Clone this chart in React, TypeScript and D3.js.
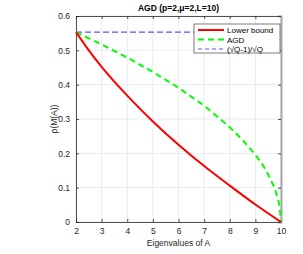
import React, { useRef, useEffect } from 'react';
import * as d3 from 'd3';

// eigenvalues sampled along the x axis
const lowerX = [2, 2.5, 3, 4, 5, 6, 7, 8, 9, 10];
const lowerY = [0.553, 0.5, 0.452, 0.368, 0.293, 0.225, 0.163, 0.106, 0.051, 0];

const agdX = [2, 3, 4, 5, 6, 7, 8, 8.5, 9, 9.3, 9.5, 9.7, 9.8, 9.9, 9.95, 10];
const agdY = [0.553, 0.517, 0.479, 0.437, 0.391, 0.339, 0.276, 0.239, 0.196, 0.165, 0.138, 0.107, 0.087, 0.062, 0.044, 0];

const boundX = [2, 10];
const boundY = [0.553, 0.553];

const xTicks = [2, 3, 4, 5, 6, 7, 8, 9, 10];
const yTicks = [0, 0.1, 0.2, 0.3, 0.4, 0.5, 0.6];

const legendLabels = ['Lower bound', 'AGD', '(\u221AQ-1)/\u221AQ'];

const App: React.FC = () => {
  const ref = useRef<SVGSVGElement | null>(null);

  useEffect(() => {
    if (!ref.current) return;
    const svg = d3.select(ref.current);
    svg.selectAll('*').remove();

    const margin = { top: 16, right: 22, bottom: 32, left: 76 };
    const width = 303, height = 254;
    const font = 'Liberation Sans, Arial, sans-serif';
    const axisColor = '#262626';

    const x = d3.scaleLinear().domain([2, 10]).range([margin.left, width - margin.right]);
    const y = d3.scaleLinear().domain([0, 0.6]).range([height - margin.bottom, margin.top]);

    svg.append('rect').attr('width', width).attr('height', height).attr('fill', 'white');

    // grid
    const grid = svg.append('g').attr('stroke', '#e6e6e6').attr('stroke-width', 0.8);
    xTicks.forEach(t => grid.append('line').attr('x1', x(t)).attr('x2', x(t)).attr('y1', y(0)).attr('y2', y(0.6)));
    yTicks.forEach(t => grid.append('line').attr('x1', x(2)).attr('x2', x(10)).attr('y1', y(t)).attr('y2', y(t)));

    // axes (ticks inside, mirrored on top/right)
    const xAxis = svg.append('g')
      .attr('transform', `translate(0,${y(0)})`)
      .call(d3.axisBottom(x).tickValues(xTicks).tickSize(-3).tickPadding(6).tickFormat(d3.format('d')));
    const yAxis = svg.append('g')
      .attr('transform', `translate(${x(2)},0)`)
      .call(d3.axisLeft(y).tickValues(yTicks).tickSize(-3).tickPadding(6).tickFormat(d => d === 0 ? '0' : d3.format('.1f')(d as number)));
    const xTop = svg.append('g')
      .attr('transform', `translate(0,${y(0.6)})`)
      .call(d3.axisTop(x).tickValues(xTicks).tickSize(-3).tickFormat(() => ''));
    const yRight = svg.append('g')
      .attr('transform', `translate(${x(10)},0)`)
      .call(d3.axisRight(y).tickValues(yTicks).tickSize(-3).tickFormat(() => ''));
    [xAxis, yAxis, xTop, yRight].forEach(a => {
      a.selectAll('.domain').attr('stroke', axisColor).attr('stroke-width', 0.8);
      a.selectAll('line').attr('stroke', axisColor).attr('stroke-width', 0.8);
      a.selectAll('text').attr('font-family', font).attr('font-size', 8.5).attr('fill', axisColor);
    });
    yRight.select('.domain').attr('stroke', '#a6a6a6').attr('stroke-width', 2);

    const line = d3.line<[number, number]>().x(d => x(d[0])).y(d => y(d[1]));
    const zip = (a: number[], b: number[]) => a.map((v, i) => [v, b[i]] as [number, number]);

    svg.append('path').datum(zip(boundX, boundY)).attr('d', line)
      .attr('fill', 'none').attr('stroke', '#5a5aff').attr('stroke-width', 1.2).attr('stroke-dasharray', '6,3');
    svg.append('path').datum(zip(agdX, agdY)).attr('d', line)
      .attr('fill', 'none').attr('stroke', '#00ff00').attr('stroke-width', 2).attr('stroke-dasharray', '6,4');
    svg.append('path').datum(zip(lowerX, lowerY)).attr('d', line.curve(d3.curveMonotoneX))
      .attr('fill', 'none').attr('stroke', '#ff0000').attr('stroke-width', 2);

    // legend
    const lg = svg.append('g').attr('transform', 'translate(194,24)');
    lg.append('rect').attr('width', 86).attr('height', 29).attr('fill', 'white').attr('stroke', axisColor).attr('stroke-width', 0.6);
    const styles = [
      { c: '#ff0000', w: 2, dash: null },
      { c: '#00ff00', w: 2, dash: '6,4' },
      { c: '#5a5aff', w: 1.2, dash: '4,3' }
    ];
    legendLabels.forEach((lab, i) => {
      const yy = 6 + i * 9.5;
      const l = lg.append('line').attr('x1', 4).attr('x2', 30).attr('y1', yy).attr('y2', yy)
        .attr('stroke', styles[i].c).attr('stroke-width', styles[i].w);
      if (styles[i].dash) l.attr('stroke-dasharray', styles[i].dash);
      lg.append('text').attr('x', 33).attr('y', yy + 3).text(lab)
        .attr('font-family', font).attr('font-size', 8).attr('fill', '#000');
    });

    // title and labels
    svg.append('text').attr('x', (x(2) + x(10)) / 2).attr('y', 11).attr('text-anchor', 'middle')
      .attr('font-family', font).attr('font-size', 8.5).attr('font-weight', 'bold').attr('fill', '#000')
      .text('AGD (p=2,\u03BC=2,L=10)');
    svg.append('text').attr('x', (x(2) + x(10)) / 2).attr('y', 246).attr('text-anchor', 'middle')
      .attr('font-family', font).attr('font-size', 8.5).attr('fill', axisColor)
      .text('Eigenvalues of A');
    svg.append('text').attr('transform', `translate(57,${(y(0) + y(0.6)) / 2}) rotate(-90)`).attr('text-anchor', 'middle')
      .attr('font-family', font).attr('font-size', 8.5).attr('fill', axisColor)
      .text('\u03C1(M(A))');
  }, []);

  return <svg ref={ref} width={303} height={254} style={{ display: 'block', position: 'absolute', left: 0, top: 0 }} />;
};

export default App;
